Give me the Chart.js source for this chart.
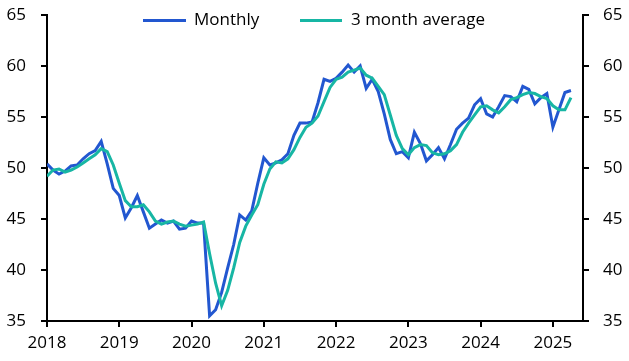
<!DOCTYPE html>
<html>
<head>
<meta charset="utf-8">
<script src="https://cdn.jsdelivr.net/npm/chart.js@4.4.1/dist/chart.umd.min.js"></script>
<style>
  html, body { margin: 0; padding: 0; background: #fff; }
  #wrap { position: relative; width: 629px; height: 361px; }
  #c { position: absolute; left: 0; top: 0; }
  .leg { position: absolute; font-family: "Open Sans", "Noto Sans", sans-serif; font-size: 17px; color: #000; line-height: 20px; white-space: nowrap; }
  .sw { position: absolute; height: 3px; }
</style>
</head>
<body>
<div id="wrap">
  <canvas id="c" width="629" height="361"></canvas>
  <div class="sw" style="left:143px; top:19px; width:43px; background:#2257D0;"></div>
  <div class="leg" style="left:194px; top:9px;">Monthly</div>
  <div class="sw" style="left:300px; top:19px; width:42px; background:#17B6A4;"></div>
  <div class="leg" style="left:351px; top:9px;">3 month average</div>
</div>
<script>
// Tick labels
const yearLabels = ['2018','2019','2020','2021','2022','2023','2024','2025'];
const yTicks = [35, 40, 45, 50, 55, 60, 65];

// Monthly series, Jan 2018 .. Apr 2025
const monthly = [
  50.4, 49.8, 49.4, 49.7, 50.2, 50.3, 50.9, 51.4, 51.7, 52.6, 50.4, 48.0,
  47.3, 45.1, 46.1, 47.3, 45.7, 44.1, 44.5, 44.9, 44.6, 44.8, 44.0, 44.1,
  44.8, 44.6, 44.6, 35.5, 36.1, 37.8, 40.2, 42.5, 45.4, 44.9, 45.8, 48.5,
  51.0, 50.3, 50.5, 50.8, 51.4, 53.2, 54.4, 54.4, 54.5, 56.4, 58.7, 58.5,
  58.8, 59.4, 60.1, 59.4, 60.0, 57.8, 58.7, 57.5, 55.3, 52.8, 51.4, 51.6,
  51.0, 53.5, 52.4, 50.7, 51.3, 52.0, 50.9, 52.3, 53.8, 54.4, 54.9, 56.2,
  56.8, 55.3, 55.0, 56.0, 57.1, 57.0, 56.5, 58.0, 57.7, 56.3, 56.9, 57.3,
  54.0, 55.7, 57.4, 57.6
];

// 3 month average series, Jan 2018 .. Apr 2025
const avg3m = [
  49.2, 49.8, 49.9, 49.6, 49.8, 50.1, 50.5, 50.9, 51.3, 51.9, 51.6, 50.3,
  48.5, 46.8, 46.2, 46.2, 46.4, 45.7, 44.8, 44.5, 44.7, 44.8, 44.5, 44.3,
  44.4, 44.5, 44.7, 41.6, 38.7, 36.5, 38.0, 40.2, 42.7, 44.3, 45.4, 46.4,
  48.4, 49.9, 50.6, 50.5, 50.9, 51.8, 53.0, 54.0, 54.4, 55.1, 56.5, 57.9,
  58.7, 58.9, 59.4, 59.6, 59.8, 59.1, 58.8, 58.0, 57.2, 55.2, 53.2, 51.9,
  51.3, 52.0, 52.3, 52.2, 51.5, 51.3, 51.4, 51.7, 52.3, 53.5, 54.4, 55.2,
  56.0, 56.1, 55.7, 55.4, 56.0, 56.7, 56.9, 57.2, 57.4, 57.3, 57.0, 56.8,
  56.1, 55.7, 55.7, 56.9
];

const toPts = arr => arr.map((v, i) => ({ x: i, y: v }));
const FONT = { family: '"Open Sans", "Noto Sans", sans-serif', size: 17 };

new Chart(document.getElementById('c'), {
  type: 'line',
  data: {
    datasets: [
      { label: 'Monthly', data: toPts(monthly), borderColor: '#2257D0', borderWidth: 3,
        pointRadius: 0, tension: 0, order: 2, yAxisID: 'y' },
      { label: '3 month average', data: toPts(avg3m), borderColor: '#17B6A4', borderWidth: 3,
        pointRadius: 0, tension: 0, order: 1, yAxisID: 'y' }
    ]
  },
  options: {
    responsive: false,
    animation: false,
    events: [],
    layout: { padding: { top: 15, left: 0, right: 0, bottom: 0 } },
    plugins: { legend: { display: false }, tooltip: { enabled: false } },
    scales: {
      x: {
        type: 'linear', min: 0, max: 89,
        afterFit: s => { s.height = 40; s.paddingLeft = 0; s.paddingRight = 0; },
        ticks: { stepSize: 12, includeBounds: false, autoSkip: false, maxRotation: 0,
          color: '#000', font: FONT, padding: 6,
          callback: v => yearLabels[v / 12] },
        grid: { display: true, drawOnChartArea: false, drawTicks: true, tickLength: 6, color: '#000', lineWidth: 2 },
        border: { display: true, color: '#000', width: 2 }
      },
      y: {
        position: 'left', min: 35, max: 65,
        afterFit: s => { s.width = 47; s.paddingTop = 0; s.paddingBottom = 0; },
        afterBuildTicks: s => { s.ticks = yTicks.map(v => ({ value: v })); },
        ticks: { color: '#000', font: FONT, padding: 15 },
        grid: { display: true, drawOnChartArea: false, drawTicks: true, tickLength: 6, color: '#000', lineWidth: 2 },
        border: { display: true, color: '#000', width: 2 }
      },
      y2: {
        position: 'right', min: 35, max: 65, display: true,
        afterFit: s => { s.width = 46; s.paddingTop = 0; s.paddingBottom = 0; },
        afterBuildTicks: s => { s.ticks = yTicks.map(v => ({ value: v })); },
        ticks: { color: '#000', font: FONT, padding: 14 },
        grid: { display: true, drawOnChartArea: false, drawTicks: true, tickLength: 6, color: '#000', lineWidth: 2 },
        border: { display: true, color: '#000', width: 2 }
      }
    }
  }
});
</script>
</body>
</html>
